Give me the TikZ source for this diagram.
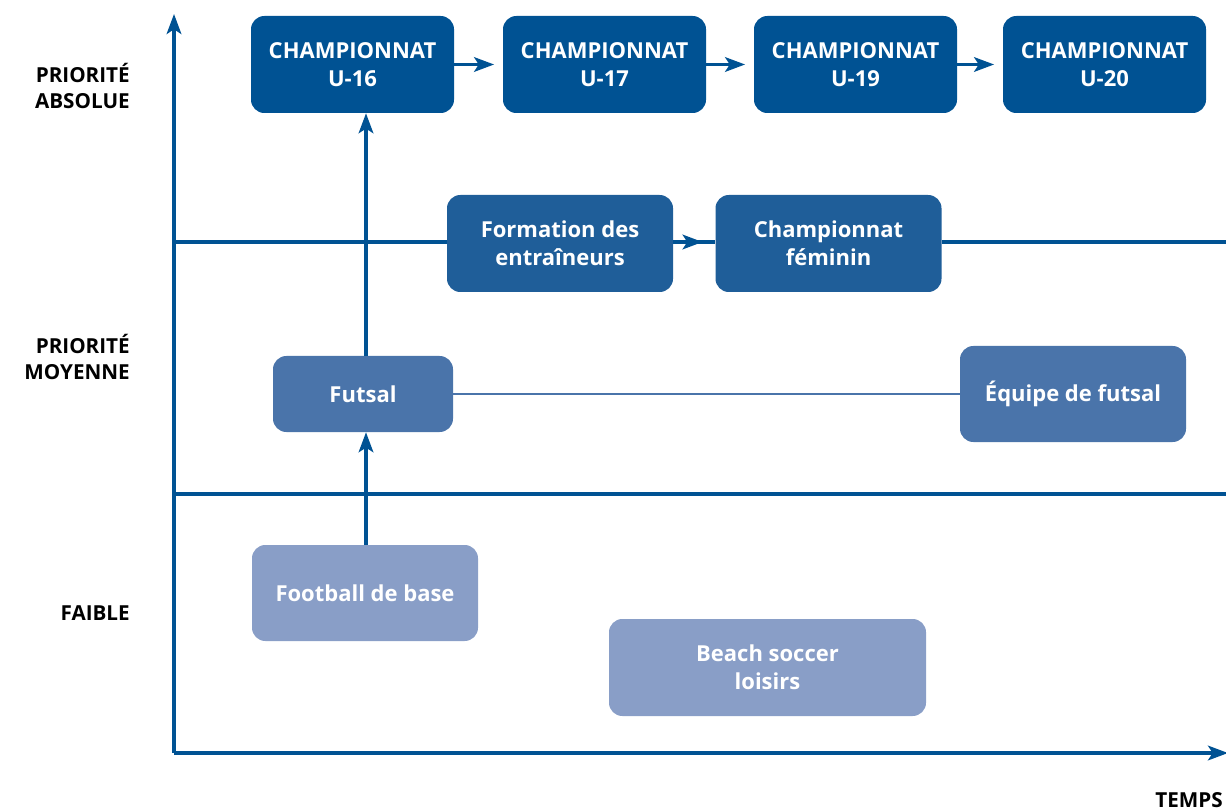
\documentclass[tikz,border=0pt]{standalone}
\usepackage{fontspec}
\setmainfont{Open Sans}
\usetikzlibrary{arrows.meta}
\definecolor{axisblue}{RGB}{0,82,147}
\definecolor{topblue}{RGB}{0,82,147}
\definecolor{midblue}{RGB}{31,94,153}
\definecolor{futblue}{RGB}{74,116,170}
\definecolor{lowblue}{RGB}{137,158,199}
\tikzset{
  box/.style={rounded corners=10pt, inner sep=0pt, text=white, align=center,
    font=\bfseries\fontsize{16.5}{21}\selectfont},
  lvl/.style={align=right, anchor=east, inner sep=0pt, font=\bfseries\fontsize{15.5}{20}\selectfont},
  tip/.style={-{Stealth[length=15pt,width=11pt,inset=3.5pt]}},
  axis/.style={draw=axisblue, line width=2.4pt, tip},
  band/.style={draw=axisblue, line width=2.3pt},
  link/.style={draw=axisblue, line width=2.3pt, tip},
  thin/.style={draw=futblue, line width=1.2pt},
}
\begin{document}
\begin{tikzpicture}[x=0.75pt,y=-0.75pt]
\useasboundingbox (0,0) rectangle (1226,812);

% boxes
\node[box, fill=topblue, minimum width=203*0.75pt, minimum height=97*0.75pt] (u16) at (352.5,64.5) {CHAMPIONNAT\\U-16};
\node[box, fill=topblue, minimum width=203*0.75pt, minimum height=97*0.75pt] (u17) at (604.5,64.5) {CHAMPIONNAT\\U-17};
\node[box, fill=topblue, minimum width=203*0.75pt, minimum height=97*0.75pt] (u19) at (855.5,64.5) {CHAMPIONNAT\\U-19};
\node[box, fill=topblue, minimum width=203*0.75pt, minimum height=97*0.75pt] (u20) at (1104.5,64.5) {CHAMPIONNAT\\U-20};

\node[box, fill=midblue, minimum width=226*0.75pt, minimum height=97*0.75pt] (form) at (560,243.5) {Formation des\\entraîneurs};
\node[box, fill=midblue, minimum width=226*0.75pt, minimum height=97*0.75pt] (fem) at (828.5,243.5) {Championnat\\féminin};

\node[box, fill=futblue, minimum width=180*0.75pt, minimum height=76*0.75pt] (futsal) at (363,394) {Futsal};
\node[box, fill=futblue, minimum width=226*0.75pt, minimum height=96*0.75pt] (equipe) at (1073,394) {Équipe de futsal};

\node[box, fill=lowblue, minimum width=226*0.75pt, minimum height=96*0.75pt] (base) at (365,593) {Football de base};
\node[box, fill=lowblue, minimum width=317*0.75pt, minimum height=97*0.75pt] (beach) at (767.5,667.5) {Beach soccer\\loisirs};

% level bands
\coordinate (bandA0) at (174,242);
\coordinate (bandA1) at (1226,242);
\coordinate (bandB0) at (174,494);
\coordinate (bandB1) at (1226,494);
\draw[band] (bandB0) -- (bandB1);

% upper band, broken by the two middle boxes
\draw[band] (bandA0) -- (bandA0 -| form.west);
\draw[band] (bandA0 -| fem.east) -- (bandA1);
\draw[band] (bandA0 -| form.east) -- (bandA0 -| fem.west);
\draw[link] (bandA0 -| form.east) -- ([xshift=-9.5pt]bandA0 -| fem.west);

% futsal line
\draw[thin] (futsal.east) -- (equipe.west);

% championship chain
\draw[link, shorten >=6.5pt] (u16.east) -- (u17.west);
\draw[link, shorten >=6.5pt] (u17.east) -- (u19.west);
\draw[link, shorten >=6.5pt] (u19.east) -- (u20.west);

% progression upwards
\coordinate (rise) at (366,0);
\draw[link] (rise |- base.north) -- (rise |- futsal.south);
\draw[link] (rise |- futsal.north) -- (rise |- u16.south);

% axes
\coordinate (origin) at (174,753);
\coordinate (ytop) at (174,14);
\coordinate (xend) at (1228,753);
\draw[axis] (origin) -- (ytop);
\draw[axis] (origin) -- (xend);

% level labels
\node[lvl] (labA) at (130,86) {PRIORITÉ\\ABSOLUE};
\node[lvl] (labB) at (130,357) {PRIORITÉ\\MOYENNE};
\node[lvl] (labC) at (130,613) {FAIBLE};
\node[lvl, anchor=west] (temps) at (1155,800) {TEMPS};
\end{tikzpicture}
\end{document}
